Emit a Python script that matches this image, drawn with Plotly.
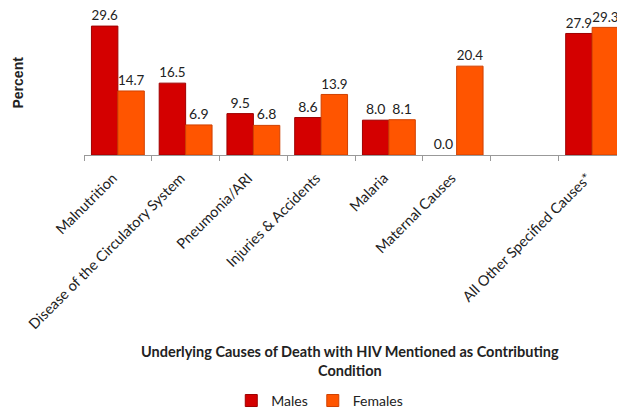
import plotly.graph_objects as go

categories = ["Malnutrition", "Disease of the Circulatory System", "Pneumonia/ARI",
              "Injuries & Accidents", "Malaria", "Maternal Causes", " ",
              "All Other Specified Causes*"]
males = [29.6, 16.5, 9.5, 8.6, 8.0, 0.0, None, 27.9]
females = [14.7, 6.9, 6.8, 13.9, 8.1, 20.4, None, 29.3]
male_labels = ["29.6", "16.5", "9.5", "8.6", "8.0", "0.0", "", "27.9"]
female_labels = ["14.7", "6.9", "6.8", "13.9", "8.1", "20.4", "", "29.3"]

FONT = "Lato"

male_line_w = [0 if (v is None or v == 0) else 1 for v in males]

fig = go.Figure()
fig.add_trace(go.Bar(
    name="Males", x=categories, y=males, text=male_labels,
    textposition="outside", cliponaxis=False,
    textfont=dict(size=14, color="#222222", family=FONT),
    marker=dict(color="#D40000", line=dict(color="#9E0000", width=male_line_w)),
))
fig.add_trace(go.Bar(
    name="Females", x=categories, y=females, text=female_labels,
    textposition="outside", cliponaxis=False,
    textfont=dict(size=14, color="#222222", family=FONT),
    marker=dict(color="#FF5500", line=dict(color="#D04000", width=1)),
))

fig.update_layout(
    width=625, height=414,
    margin=dict(l=76, r=7, t=0, b=267),
    barmode="group", bargap=0.22, bargroupgap=0,
    plot_bgcolor="white", paper_bgcolor="white",
    font=dict(family=FONT, size=14, color="#222222"),
    showlegend=True,
    legend=dict(orientation="h", x=0.435, xref="paper", y=-1.673, yanchor="middle",
                xanchor="center", font=dict(size=14, family=FONT),
                itemwidth=30, traceorder="normal"),
    xaxis=dict(type="category", tickangle=-45, ticks="outside", tickson="boundaries",
               ticklen=5, tickcolor="#999999", showline=True, linecolor="#999999",
               linewidth=1, showgrid=False, tickfont=dict(size=14.5, family=FONT),
               ticklabelstandoff=8, ticklabelshift=-5, automargin=False),
    yaxis=dict(range=[0, 33.75], showgrid=False, showticklabels=False, ticks="",
               showline=False, zeroline=False),
    annotations=[
        dict(text="<b>Percent</b>", textangle=-90, xref="paper", yref="paper",
             x=-0.1218, y=0.493, xanchor="center", yanchor="middle", showarrow=False,
             font=dict(size=14, family="Liberation Sans, Arial")),
        dict(text="<b>Underlying Causes of Death with HIV Mentioned as Contributing<br>Condition</b>",
             xref="paper", yref="paper", x=0.491, y=-1.401, xanchor="center", yanchor="middle",
             showarrow=False, font=dict(size=14.5, family=FONT)),
    ],
)

fig.write_html("out.html")
